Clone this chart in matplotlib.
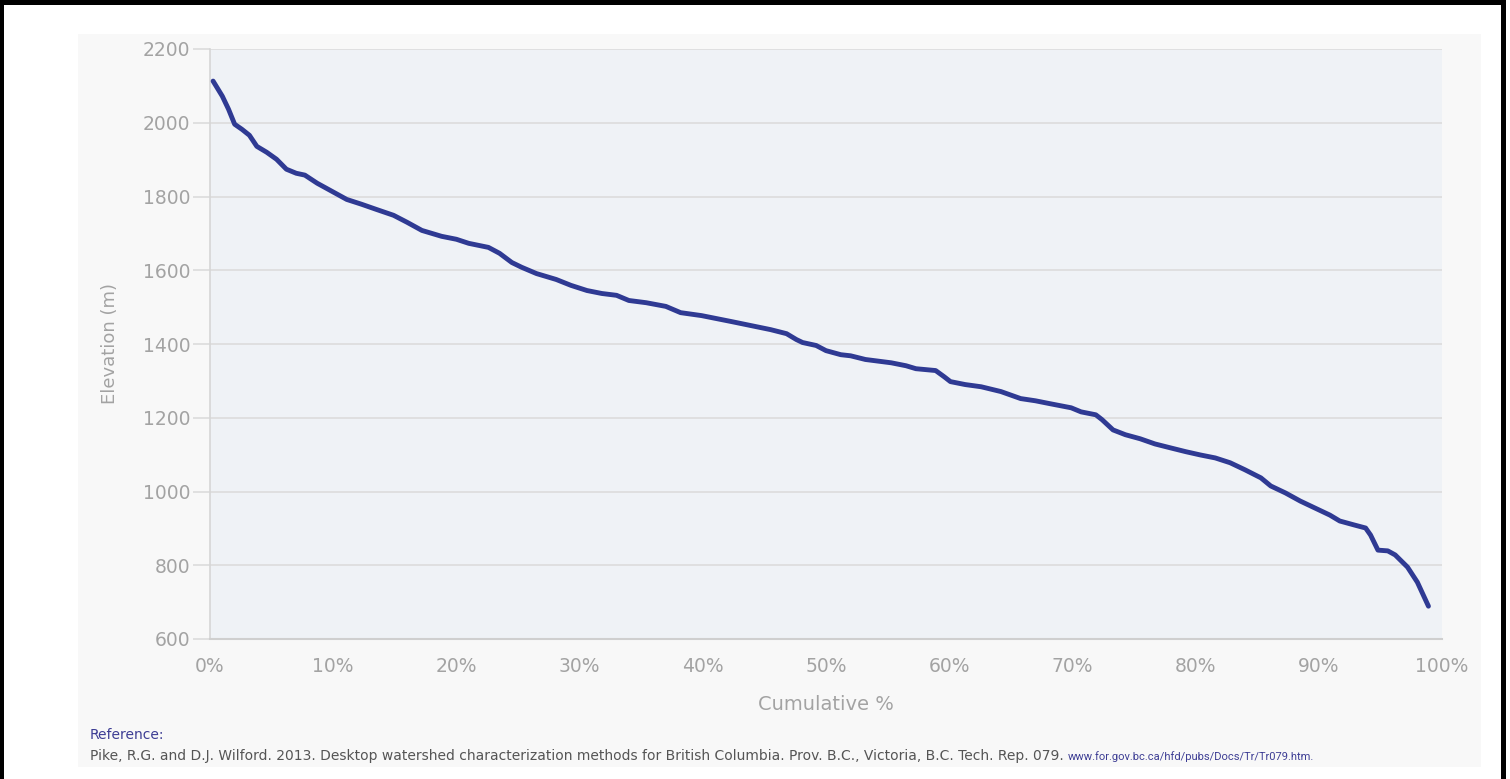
import matplotlib
matplotlib.use("Agg")
import matplotlib.pyplot as plt
from matplotlib.patches import Rectangle
from matplotlib.ticker import FuncFormatter

# ---- data ----
cumulative_pct = [0.25, 1.0, 1.5, 2.0, 2.6, 3.2, 3.8, 4.6, 5.4, 6.2, 7.0, 7.7, 8.7, 9.9,
                  11.1, 12.3, 13.5, 14.9, 16.0, 17.2, 18.8, 20.0, 21.0, 22.6, 23.5, 24.5,
                  25.3, 26.5, 28.1, 29.3, 30.6, 31.8, 33.0, 34.0, 35.4, 37.0, 38.2, 39.9,
                  41.1, 42.3, 43.9, 45.5, 46.8, 47.6, 48.1, 49.2, 50.0, 51.2, 52.0, 53.2,
                  55.3, 56.5, 57.3, 58.9, 59.6, 60.1, 61.3, 62.6, 64.2, 65.8, 67.0, 68.2,
                  69.9, 70.7, 71.9, 72.4, 73.3, 74.3, 75.5, 76.7, 78.0, 79.2, 80.4, 81.6,
                  82.8, 84.0, 85.3, 86.1, 87.3, 88.5, 89.7, 90.9, 91.7, 92.9, 93.8, 94.2,
                  94.8, 95.6, 96.2, 97.2, 98.0, 98.9]
elevation_m = [2113, 2072, 2037, 1996, 1982, 1966, 1936, 1920, 1901, 1874, 1863, 1858, 1836, 1814,
               1792, 1779, 1765, 1749, 1730, 1708, 1692, 1684, 1673, 1662, 1646, 1621,
               1608, 1591, 1575, 1559, 1545, 1537, 1532, 1518, 1512, 1502, 1485, 1477,
               1469, 1461, 1450, 1439, 1428, 1412, 1404, 1396, 1382, 1371, 1368, 1358,
               1349, 1341, 1333, 1328, 1311, 1298, 1290, 1284, 1271, 1252, 1246, 1238,
               1227, 1216, 1208, 1195, 1167, 1154, 1143, 1129, 1118, 1108, 1099, 1091,
               1078, 1059, 1037, 1015, 996, 974, 955, 936, 920, 909, 901, 882,
               841, 839, 828, 795, 754, 689]
x_ticks = [0, 10, 20, 30, 40, 50, 60, 70, 80, 90, 100]
y_ticks = [600, 800, 1000, 1200, 1400, 1600, 1800, 2000, 2200]

ref_label = "Reference:"
citation = ("Pike, R.G. and D.J. Wilford. 2013. Desktop watershed characterization methods for "
            "British Columbia. Prov. B.C., Victoria, B.C. Tech. Rep. 079. ")
url = "www.for.gov.bc.ca/hfd/pubs/Docs/Tr/Tr079.htm."

W, H = 1510, 779
fig = plt.figure(figsize=(W / 100, H / 100), dpi=100)
fig.patch.set_facecolor("white")

def fx(px):
    return px / W

def fy(py):
    return 1 - py / H

# light panel behind the chart
fig.patches.append(Rectangle((fx(78), fy(767)), fx(1481) - fx(78), fy(34) - fy(767),
                             transform=fig.transFigure, facecolor="#f8f8f8",
                             edgecolor="none", zorder=-10))
# black frame (left, top, right)
for (x0, y0, x1, y1) in [(0, 0, 4, 779), (0, 0, 1506, 5), (1501, 0, 1506, 779)]:
    fig.patches.append(Rectangle((fx(x0), fy(y1)), fx(x1) - fx(x0), fy(y0) - fy(y1),
                                 transform=fig.transFigure, facecolor="black",
                                 edgecolor="none", zorder=20))

ax = fig.add_axes([fx(210), fy(639), fx(1442) - fx(210), fy(49) - fy(639)])
ax.set_zorder(5)
ax.set_facecolor("#eff2f6")
ax.plot(cumulative_pct, elevation_m, color="#2f3a93", linewidth=3.5,
        solid_joinstyle="round", solid_capstyle="round", zorder=3)

ax.set_xlim(0, 100)
ax.set_ylim(600, 2200)
ax.set_xticks(x_ticks)
ax.set_yticks(y_ticks)
ax.xaxis.set_major_formatter(FuncFormatter(lambda v, p: f"{int(v)}%"))
ax.grid(axis="y", color="#dcdcdc", linewidth=1.2)
ax.grid(axis="x", visible=False)
ax.set_axisbelow(True)

for s in ["top", "right"]:
    ax.spines[s].set_visible(False)
ax.spines["left"].set_color("#d6d6d6")
ax.spines["bottom"].set_color("#cfcfcf")
ax.spines["left"].set_linewidth(1.2)
ax.spines["bottom"].set_linewidth(1.5)

tick_color = "#a3a3a3"
ax.tick_params(axis="y", length=12.2, width=1.2, color="#dcdcdc", pad=2,
               labelsize=13.5, labelcolor=tick_color)
ax.tick_params(axis="x", length=0, pad=13, labelsize=13.5, labelcolor=tick_color)

ax.set_xlabel("Cumulative %", fontsize=14, color=tick_color, labelpad=14)
ax.set_ylabel("Elevation (m)", fontsize=13, color=tick_color, labelpad=17)

t1 = fig.text(fx(90), fy(739), ref_label, fontsize=10, color="#3d3d94",
              va="baseline", ha="left", zorder=10)
t2 = fig.text(fx(90), fy(760), citation, fontsize=10, color="#555555",
              va="baseline", ha="left", zorder=10)
t3 = fig.text(0, 0, url, fontsize=8.0, color="#3d3d94", family="Roboto",
              va="baseline", ha="left", zorder=10)
fig.canvas.draw()
r = fig.canvas.get_renderer()
bb = t2.get_window_extent(renderer=r)
t3.set_position((bb.x1 / fig.bbox.width, fy(760)))

fig.savefig("out.png", dpi=100, facecolor="white")
